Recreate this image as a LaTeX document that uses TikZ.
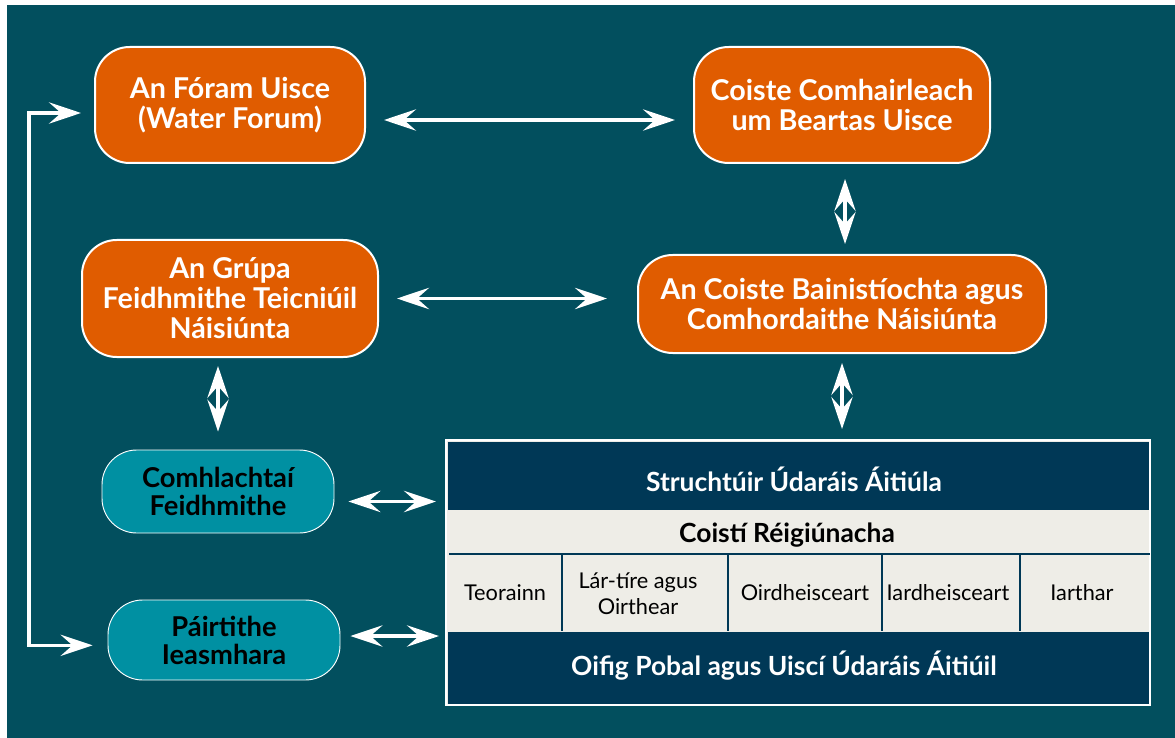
\documentclass[tikz,border=0pt]{standalone}
\usepackage{fontspec}
\setmainfont{Lato}
\usetikzlibrary{arrows.meta}

\definecolor{bgteal}{HTML}{024F5E}
\definecolor{orangec}{HTML}{E05C00}
\definecolor{tealc}{HTML}{0090A2}
\definecolor{navyc}{HTML}{003856}
\definecolor{paperc}{HTML}{EEEDE7}

\tikzset{
  orangebox/.style={draw=white, line width=1.5pt, fill=orangec, rounded corners=26pt,
    text=white, align=center, inner sep=0pt, font=\bfseries\fontsize{21.5}{22.5}\selectfont},
  tealbox/.style={draw=white, line width=0.7pt, fill=tealc, rounded corners=26pt,
    text=black, align=center, inner sep=0pt, font=\bfseries\fontsize{20.5}{21}\selectfont},
  link/.style={draw=white, line width=2.6pt,
    {Stealth[length=24pt,width=16pt,inset=9pt]}-{Stealth[length=24pt,width=16pt,inset=9pt]}},
  bandtext/.style={text=white, inner sep=0pt, anchor=base, font=\bfseries\fontsize{19.8}{22}\selectfont},
  celltext/.style={text=black, inner sep=0pt, align=center, font=\fontsize{16.3}{19.5}\selectfont},
}

\begin{document}
\begin{tikzpicture}[x=0.75pt, y=-0.75pt]
    % page and background
    \fill[white] (0,0) rectangle (1175,738);
    \fill[bgteal] (7,5) rectangle (1175,738);

    % national level
    \node[orangebox, minimum width=202.5pt, minimum height=87pt] (forum) at (230,105)
        {An Fóram Uisce\\(Water Forum)};
    \node[orangebox, minimum width=222pt, minimum height=87pt] (advisory) at (842,105)
        {Coiste Comhairleach\\um Beartas Uisce};
    \node[orangebox, minimum width=222pt, minimum height=87.75pt] (grupa) at (230,298.5)
        {An Grúpa\\Feidhmithe Teicniúil\\Náisiúnta};
    \node[orangebox, minimum width=306pt, minimum height=73.5pt] (bainis) at (842,304)
        {An Coiste Bainistíochta agus\\Comhordaithe Náisiúnta};

    % bodies and stakeholders
    \node[tealbox, minimum width=174pt, minimum height=62.25pt] (comhl) at (218,491.5)
        {Comhlachtaí\\Feidhmithe};
    \node[tealbox, minimum width=174pt, minimum height=60pt] (pairt) at (224,640)
        {Páirtithe\\Ieasmhara};

    % local authority table
    \node[draw=white, line width=1.5pt, fill=paperc, inner sep=0pt,
          minimum width=528pt, minimum height=198.75pt] (tbl) at (798,572.5) {};
    \fill[navyc] (448,442) rectangle (1149,510);
    \fill[navyc] (448,632) rectangle (1149,704);
    \draw[navyc, line width=1.5pt] (449,553.5) -- (1150,553.5);
    \foreach \cx in {562,728,882,1020}
        \draw[navyc, line width=1.5pt] (\cx,553) -- (\cx,631);

    \node[bandtext] (hdr) at (794,491) {Struchtúir Údaráis Áitiúla};
    \node[bandtext, text=black] (coisti) at (787,542) {Coistí Réigiúnacha};
    \node[celltext, anchor=base] (teor) at (505,600) {Teorainn};
    \node[celltext] (lar) at (638,594) {Lár-tíre agus\\Oirthear};
    \node[celltext, anchor=base] (oird) at (805,600) {Oirdheisceart};
    \node[celltext, anchor=base] (iard) at (948,600) {Iardheisceart};
    \node[celltext, anchor=base] (iart) at (1082,600) {Iarthar};
    \node[bandtext] (oifig) at (784,675) {Oifig Pobal agus Uiscí Údaráis Áitiúil};

    % links
    \draw[link, shorten <=13.5pt, shorten >=13.5pt]
        ([yshift=-11.25pt]forum.east) -- ([yshift=-11.25pt]advisory.west);
    \draw[link, shorten <=11.25pt, shorten >=7.5pt]
        ([xshift=2.25pt]advisory.south) -- ([xshift=2.25pt]bainis.north);
    \draw[link, shorten <=13.5pt, shorten >=22.5pt]
        (grupa.east) -- (grupa.east -| bainis.west);
    \draw[link, shorten <=6pt, shorten >=13.5pt]
        (comhl.north |- grupa.south) -- (comhl.north);
    \draw[link, shorten <=6.75pt, shorten >=7.5pt]
        (bainis.south) -- (bainis.south |- tbl.north);
    \draw[link, shorten <=10.5pt, shorten >=6.75pt]
        ([yshift=-7.5pt]comhl.east) -- ([yshift=-7.5pt]comhl.east -| tbl.west);
    \draw[link, shorten <=7.5pt, shorten >=4.5pt]
        ([yshift=3pt]pairt.east) -- ([yshift=3pt]pairt.east -| tbl.west);

    % side rail from forum to stakeholders
    \coordinate (rail) at (29,400);
    \draw[link, shorten <=9.75pt, shorten >=11.25pt]
        ([yshift=-6pt]forum.west) -| (rail) |- ([yshift=-4pt]pairt.west);
\end{tikzpicture}
\end{document}
